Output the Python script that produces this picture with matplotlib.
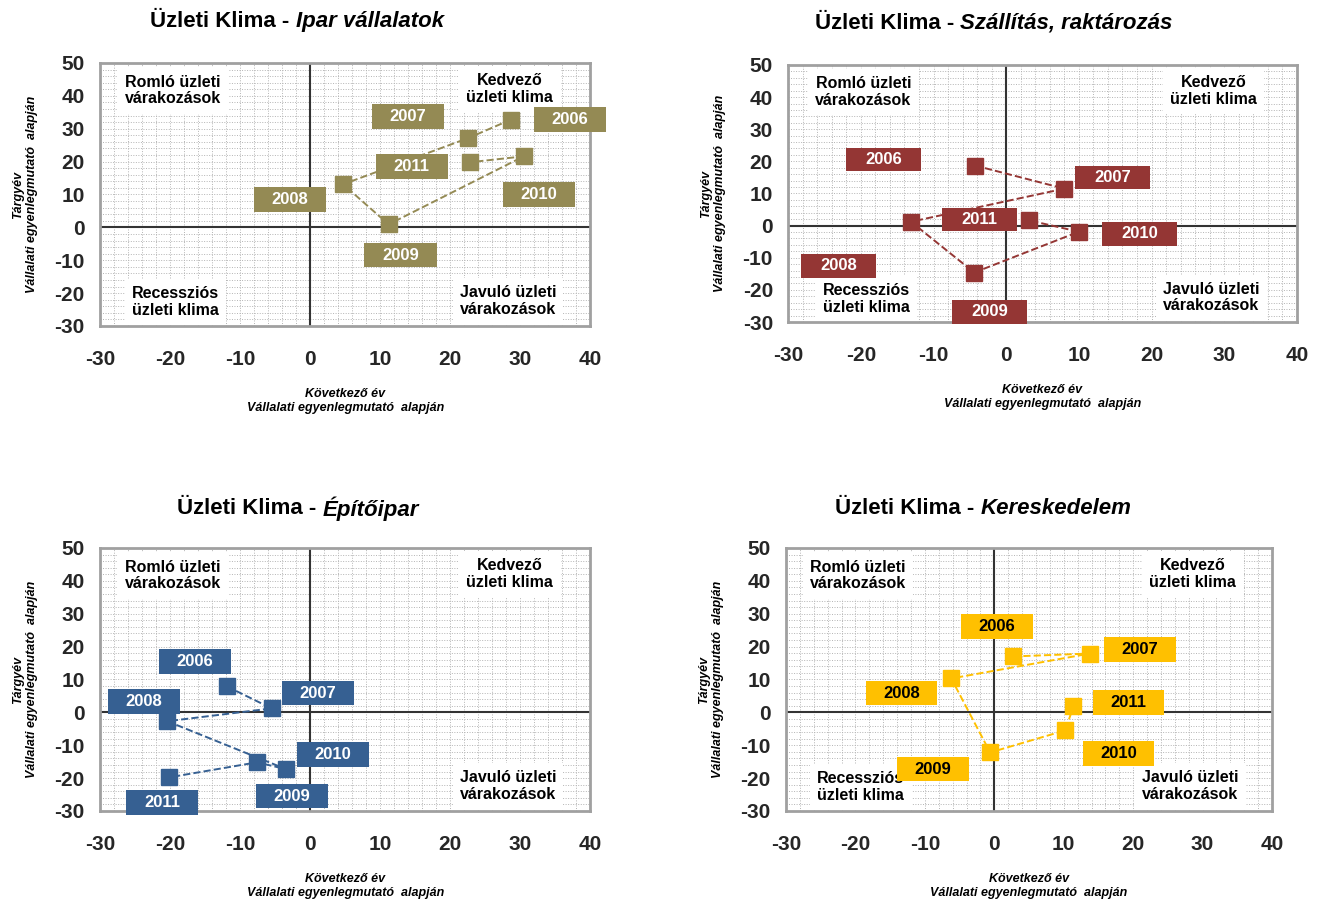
import numpy as np
import matplotlib.pyplot as plt
from matplotlib.patches import Rectangle
from matplotlib.ticker import MultipleLocator

plt.rcParams['font.family'] = ['Liberation Sans', 'DejaVu Sans']
plt.rcParams['axes.unicode_minus'] = False
NARROW = ['Liberation Sans Narrow', 'Liberation Sans', 'DejaVu Sans']

years = ['2006', '2007', '2008', '2009', '2010', '2011']

# Kovetkezo ev (x) and Targyev (y) balance indicators
ipar_x = [28.7, 22.5, 4.7, 11.2, 30.5, 22.8]
ipar_y = [32.8, 27.1, 13.1, 0.9, 21.6, 19.8]

szall_x = [-4.3, 8.0, -13.1, -4.4, 10.0, 3.2]
szall_y = [18.7, 11.5, 1.2, -14.6, -1.9, 1.6]

epito_x = [-11.9, -5.5, -20.4, -3.4, -7.6, -20.2]
epito_y = [7.9, 1.2, -2.7, -17.3, -15.2, -19.8]

keres_x = [2.7, 13.8, -6.2, -0.6, 10.2, 11.4]
keres_y = [17.0, 17.9, 10.3, -12.2, -5.5, 1.8]

# label box offsets from the marker (data units)
ipar_off = [(8.4, 0), (-8.5, 6.6), (-7.6, -4.6), (1.7, -9.4), (2.2, -11.6), (-8.3, -1.3)]
szall_off = [(-12.6, 1.9), (6.6, 3.5), (-10, -13.7), (2.1, -12.2), (8.4, -0.6), (-6.9, 0.3)]
epito_off = [(-4.6, 7.6), (6.6, 4.6), (-3.3, 6.0), (0.8, -8.2), (10.8, 2.4), (-0.9, -7.6)]
keres_off = [(-2.3, 9.1), (7.2, 1.2), (-7.2, -4.5), (-8.2, -5.1), (7.7, -7.0), (7.9, 1.2)]

BOX_W, BOX_H = 10.3, 7.4

fig = plt.figure(figsize=(13.18, 9.02), dpi=100)

panels = [
    ('Ipar vállalatok', ipar_x, ipar_y, ipar_off, '#948A54', 'white',
     [0.0759, 0.6386, 0.372, 0.2916], 297, True),
    ('Szállítás, raktározás', szall_x, szall_y, szall_off, '#943634', 'white',
     [0.598, 0.643, 0.386, 0.285], 994, True),
    ('Építőipar', epito_x, epito_y, epito_off, '#366092', 'white',
     [0.0759, 0.1009, 0.372, 0.2916], 298, False),
    ('Kereskedelem', keres_x, keres_y, keres_off, '#FFC000', 'black',
     [0.5964, 0.1009, 0.3687, 0.2916], 983, True),
]

renderer = fig.canvas.get_renderer()

for name, xs, ys, offs, col, tcol, rect, tcx, show_rec in panels:
    ax = fig.add_axes(rect)
    ax.set_xlim(-30, 40)
    ax.set_ylim(-30, 50)
    ax.xaxis.set_major_locator(MultipleLocator(10))
    ax.yaxis.set_major_locator(MultipleLocator(10))
    ax.xaxis.set_minor_locator(MultipleLocator(2))
    ax.yaxis.set_minor_locator(MultipleLocator(2))
    ax.grid(which='both', color='#B4B4B4', linewidth=0.7, linestyle=(0, (1, 1.6)))
    ax.set_axisbelow(True)
    ax.tick_params(which='both', length=0)
    ax.tick_params(axis='x', pad=17, labelcolor='#262626')
    ax.tick_params(axis='y', pad=11, labelcolor='#262626')
    for lab in ax.get_xticklabels() + ax.get_yticklabels():
        lab.set_fontweight('bold')
        lab.set_family(NARROW)
        lab.set_fontsize(15)
    for sp in ax.spines.values():
        sp.set_color('#A0A0A0')
        sp.set_linewidth(2)
    ax.axhline(0, color='#333333', lw=1.5, zorder=1)
    ax.axvline(0, color='#333333', lw=1.5, zorder=1)

    # quadrant captions
    qkw = dict(transform=ax.transAxes, ha='center', va='center', fontsize=11.5,
               fontweight='bold', linespacing=1.15, zorder=2,
               bbox=dict(boxstyle='square,pad=0.45', fc='white', ec='none'))
    ax.text(0.148, 0.895, 'Romló üzleti\nvárakozások', **qkw)
    ax.text(0.836, 0.90, 'Kedvező\nüzleti klima', **qkw)
    if show_rec:
        ax.text(0.154, 0.09, 'Recessziós\nüzleti klima', **qkw)
    ax.text(0.832, 0.095, 'Javuló üzleti\nvárakozások', **qkw)

    ax.plot(xs, ys, linestyle='--', color=col, lw=1.4, marker='s', markersize=12,
            markeredgecolor=col, zorder=3)

    for yr, x, y, (dx, dy) in zip(years, xs, ys, offs):
        cx, cy = x + dx, y + dy
        ax.add_patch(Rectangle((cx - BOX_W / 2, cy - BOX_H / 2), BOX_W, BOX_H,
                               fc=col, ec='none', zorder=4, clip_on=False))
        ax.text(cx, cy, yr, ha='center', va='center', fontsize=12,
                fontweight='bold', color=tcol, zorder=5, clip_on=False,
                family=NARROW)

    ax.set_xlabel('Következő év\nVállalati egyenlegmutató  alapján', fontsize=9,
                  fontstyle='italic', fontweight='bold', labelpad=14)
    ax.set_ylabel('Tárgyév\nVállalati egyenlegmutató  alapján', fontsize=9,
                  fontstyle='italic', fontweight='bold', labelpad=12)

    # title: bold normal part + bold italic part, centred at tcx pixels
    ty = rect[1] + rect[3] + (0.046 if rect[1] > 0.5 else 0.044)
    t1 = fig.text(0, ty, 'Üzleti Klima - ', fontsize=16, fontweight='bold',
                  va='center', ha='left', family=NARROW)
    t2 = fig.text(0, ty, name, fontsize=16, fontweight='bold', fontstyle='italic',
                  va='center', ha='left', family=NARROW)
    w1 = t1.get_window_extent(renderer).width
    w2 = t2.get_window_extent(renderer).width
    left = tcx - (w1 + w2) / 2
    t1.set_x(left / fig.bbox.width)
    t2.set_x((left + w1) / fig.bbox.width)

fig.savefig('out.png', dpi=100)
